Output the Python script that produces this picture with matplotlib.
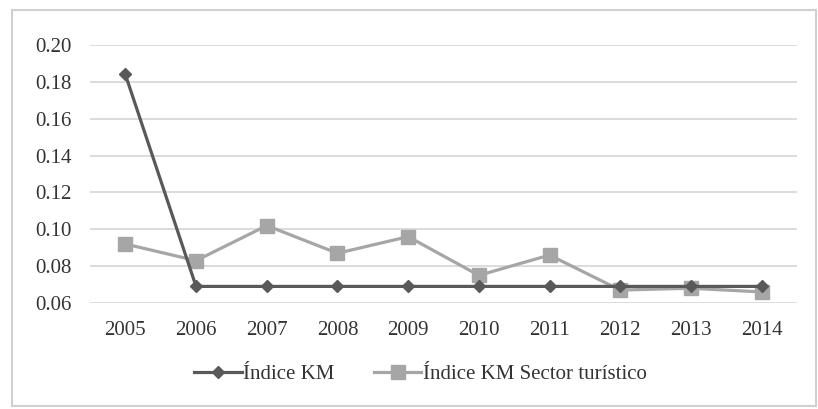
import matplotlib.pyplot as plt
import matplotlib.patches as mpatches
import numpy as np

# Series values
years = ['2005', '2006', '2007', '2008', '2009', '2010', '2011', '2012', '2013', '2014']
indice_km = [0.184, 0.069, 0.069, 0.069, 0.069, 0.069, 0.069, 0.069, 0.069, 0.069]
indice_km_turismo = [0.092, 0.083, 0.102, 0.087, 0.096, 0.075, 0.086, 0.067, 0.068, 0.066]
y_ticks = [0.06, 0.08, 0.10, 0.12, 0.14, 0.16, 0.18, 0.20]

plt.rcParams['font.family'] = ['Liberation Serif', 'DejaVu Serif']

W, H = 818, 409
fig = plt.figure(figsize=(W / 100, H / 100), dpi=100)
ax = fig.add_axes([90 / W, 1 - 303 / H, (797 - 90) / W, (303 - 45) / H])

x = np.arange(len(years))
ax.plot(x, indice_km_turismo, color='#a6a6a6', linewidth=2.3, marker='s',
        markersize=10, label='Índice KM Sector turístico', zorder=3)
ax.plot(x, indice_km, color='#595959', linewidth=2.3, marker='D',
        markersize=6.5, label='Índice KM', zorder=4)

ax.set_xlim(-0.5, len(years) - 0.5)
ax.set_ylim(0.06, 0.20)
ax.set_yticks(y_ticks)
ax.set_yticklabels([f'{v:.2f}' for v in y_ticks])
ax.set_xticks(x)
ax.set_xticklabels(years)
ax.tick_params(axis='both', length=0, labelsize=15, colors='#333333')
ax.tick_params(axis='x', pad=13)
ax.tick_params(axis='y', pad=13)

ax.grid(True, axis='y', color='#d9d9d9', linewidth=1.3)
ax.set_axisbelow(True)
for s in ax.spines.values():
    s.set_visible(False)

# legend below the plot, KM first
h, l = ax.get_legend_handles_labels()
fig.legend(h[::-1], l[::-1], loc='center', bbox_to_anchor=(420 / W, 1 - 374 / H),
           ncol=2, frameon=False, fontsize=15, handlelength=2.3,
           handletextpad=0.05, columnspacing=1.9, labelcolor='#333333')

# outer chart border
fig.patches.append(mpatches.Rectangle((12 / W, 1 - 406 / H), (816 - 12) / W, (406 - 10) / H,
                                      transform=fig.transFigure, fill=False,
                                      edgecolor='#d0d0d0', linewidth=1.5))

fig.savefig('out.png', dpi=100)
